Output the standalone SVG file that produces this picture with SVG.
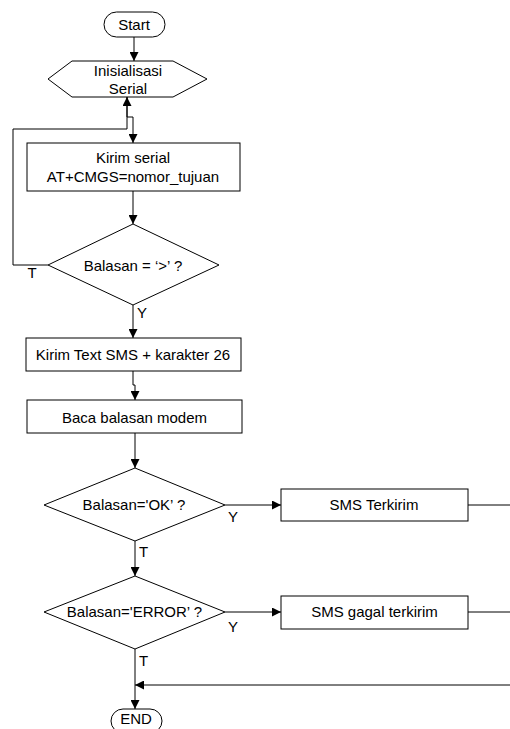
<svg xmlns="http://www.w3.org/2000/svg" width="510" height="729" viewBox="0 0 510 729">
<style>
.s{fill:#fff;stroke:#000;stroke-width:1}
.c{fill:none;stroke:#000;stroke-width:1}
text{font-family:"Liberation Sans",Arial,sans-serif;font-size:15px;fill:#000}
.m{text-anchor:middle}
</style>
<defs>
<marker id="a" viewBox="0 0 10 10" refX="10" refY="5" markerWidth="10" markerHeight="9" markerUnits="userSpaceOnUse" orient="auto">
<path d="M0,0 L10,5 L0,10 z" fill="#000"/>
</marker>
</defs>
<rect width="510" height="729" fill="#fff"/>
<g id="connectors">
<path class="c" d="M134,37 V61" marker-end="url(#a)"/>
<path class="c" d="M13,265 V129 H127 V97" marker-end="url(#a)"/>
<path class="c" d="M48,265 H13"/>
<path class="c" d="M127,97 V117 H133 V143" marker-end="url(#a)"/>
<path class="c" d="M133,191 V224" marker-end="url(#a)"/>
<path class="c" d="M133,305 V338" marker-end="url(#a)"/>
<path class="c" d="M133,371 V385 H135 V400" marker-end="url(#a)"/>
<path class="c" d="M135,433 V468" marker-end="url(#a)"/>
<path class="c" d="M225,505 H281" marker-end="url(#a)"/>
<path class="c" d="M468,505 H510"/>
<path class="c" d="M135,541 V576" marker-end="url(#a)"/>
<path class="c" d="M225,612 H281" marker-end="url(#a)"/>
<path class="c" d="M468,612 H510"/>
<path class="c" d="M510,685 H135" marker-end="url(#a)"/>
<path class="c" d="M135,649 V709" marker-end="url(#a)"/>
<text x="32" y="278" class="m">T</text>
<text x="137" y="318">Y</text>
<text x="228" y="522">Y</text>
<text x="139" y="557">T</text>
<text x="228" y="632">Y</text>
<text x="139" y="666">T</text>
</g>
<g id="start">
<rect class="s" x="104" y="12" width="61" height="25" rx="12.5"/>
<text x="134" y="30" class="m">Start</text>
</g>
<g id="init">
<polygon class="s" points="48,79 72,61 173,61 207,79 173,97 72,97"/>
<text x="128" y="76" class="m">Inisialisasi</text>
<text x="128" y="94" class="m">Serial</text>
</g>
<g id="kirim-serial">
<rect class="s" x="27" y="143" width="213" height="48"/>
<text x="133" y="163" class="m">Kirim serial</text>
<text x="133" y="182" class="m">AT+CMGS=nomor_tujuan</text>
</g>
<g id="cek-prompt">
<polygon class="s" points="133,224 219,265 133,305 48,265"/>
<text x="133" y="271" class="m">Balasan = ‘&gt;’ ?</text>
</g>
<g id="kirim-text">
<rect class="s" x="26" y="338" width="215" height="33"/>
<text x="133" y="360" class="m">Kirim Text SMS + karakter 26</text>
</g>
<g id="baca">
<rect class="s" x="27" y="400" width="215" height="33"/>
<text x="134.5" y="423" class="m">Baca balasan modem</text>
</g>
<g id="cek-ok">
<polygon class="s" points="135,468 225,505 135,541 44,505"/>
<text x="134" y="510" class="m">Balasan='OK’ ?</text>
</g>
<g id="terkirim">
<rect class="s" x="281" y="489" width="187" height="32"/>
<text x="374" y="510" class="m">SMS Terkirim</text>
</g>
<g id="cek-error">
<polygon class="s" points="135,576 225,612 135,649 44,612"/>
<text x="134.5" y="617" class="m">Balasan='ERROR’ ?</text>
</g>
<g id="gagal">
<rect class="s" x="281" y="596" width="187" height="33"/>
<text x="374.5" y="617" class="m">SMS gagal terkirim</text>
</g>
<g id="end">
<rect class="s" x="111" y="709" width="51" height="24" rx="12"/>
<text x="136" y="724" class="m">END</text>
</g>
</svg>
